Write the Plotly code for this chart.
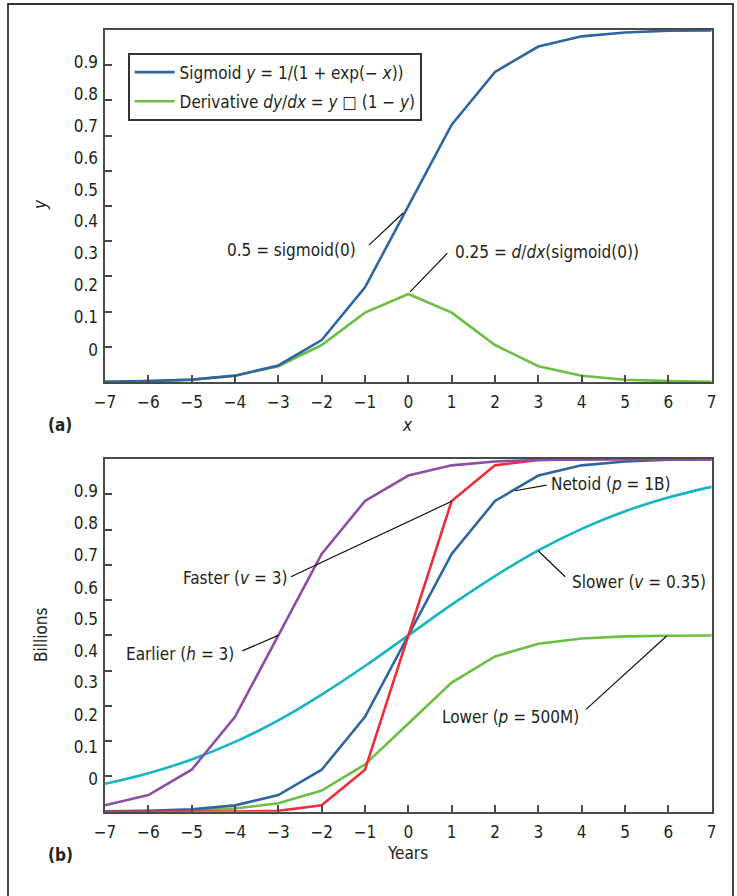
import plotly.graph_objects as go

# ---------------- data ----------------
x_vals = [-7, -6, -5, -4, -3, -2, -1, 0, 1, 2, 3, 4, 5, 6, 7]

# panel (a)
sigmoid = [0.0009, 0.0025, 0.0067, 0.018, 0.047, 0.119, 0.269, 0.5,
           0.731, 0.881, 0.953, 0.982, 0.993, 0.998, 0.999]
derivative = [0.0009, 0.0025, 0.0066, 0.0177, 0.045, 0.105, 0.197, 0.25,
              0.197, 0.105, 0.045, 0.0177, 0.0066, 0.0025, 0.0009]

# panel (b)
netoid = [0.0009, 0.0025, 0.0067, 0.018, 0.047, 0.119, 0.269, 0.5,
          0.731, 0.881, 0.953, 0.982, 0.993, 0.998, 0.999]
faster = [0.0, 0.0, 0.0, 0.0003, 0.0025, 0.018, 0.119, 0.5,
          0.881, 0.982, 0.9975, 0.9997, 1.0, 1.0, 1.0]
earlier = [0.018, 0.047, 0.119, 0.269, 0.5, 0.731, 0.881, 0.953,
           0.982, 0.993, 0.9975, 0.999, 0.9997, 0.9999, 1.0]
slower = [0.079, 0.109, 0.148, 0.198, 0.259, 0.332, 0.413, 0.5,
          0.587, 0.668, 0.741, 0.802, 0.852, 0.891, 0.921]
lower = [0.0005, 0.0012, 0.0033, 0.009, 0.024, 0.060, 0.134, 0.25,
         0.366, 0.440, 0.476, 0.491, 0.497, 0.499, 0.4995]

# axis ticks / labels
x_ticks = [-7, -6, -5, -4, -3, -2, -1, 0, 1, 2, 3, 4, 5, 6, 7]
y_ticks = [0.1, 0.2, 0.3, 0.4, 0.5, 0.6, 0.7, 0.8, 0.9]
y_labels = ["0", "0.1", "0.2", "0.3", "0.4", "0.5", "0.6", "0.7", "0.8", "0.9"]
y_label_pos = [0.092, 0.184, 0.275, 0.367, 0.456, 0.545, 0.635, 0.727, 0.818, 0.908]

# ---------------- style ----------------
FONT = "DejaVu Sans Condensed, Liberation Sans Narrow, Arial Narrow, sans-serif"
FS = 17
TXT = "#231f20"
AX = "#4a4a4a"
BLUE = "#2f65a0"
GREEN = "#6cbf45"
RED = "#ec2f3a"
PURPLE = "#8d4fa6"
CYAN = "#15b5c2"
LW = 2.6

W, H = 737, 896
def px(v):
    return v / W
def py(v):
    return 1 - v / H

xdom = [px(105), px(711.7)]
ydom_a = [py(382), py(30)]
ydom_b = [py(811.7), py(459)]

fig = go.Figure()

# panel (a)
fig.add_trace(go.Scatter(x=x_vals, y=derivative, mode="lines",
                         line=dict(color=GREEN, width=LW),
                         name="Derivative <i>dy</i>/<i>dx</i> = <i>y</i> \u25a1 (1 \u2212 <i>y</i>)",
                         legendrank=2, legendgroup="d", xaxis="x", yaxis="y"))
fig.add_trace(go.Scatter(x=x_vals, y=sigmoid, mode="lines",
                         line=dict(color=BLUE, width=LW),
                         name="Sigmoid <i>y</i> = 1/(1 + exp(\u2212 <i>x</i>))",
                         legendrank=1, legendgroup="s", xaxis="x", yaxis="y"))

# panel (b)
fig.add_trace(go.Scatter(x=x_vals, y=slower, mode="lines", line_shape="spline",
                         line=dict(color=CYAN, width=LW), showlegend=False,
                         xaxis="x2", yaxis="y2"))
fig.add_trace(go.Scatter(x=x_vals, y=lower, mode="lines",
                         line=dict(color=GREEN, width=LW), showlegend=False,
                         xaxis="x2", yaxis="y2"))
fig.add_trace(go.Scatter(x=x_vals, y=netoid, mode="lines",
                         line=dict(color=BLUE, width=LW), showlegend=False,
                         xaxis="x2", yaxis="y2"))
fig.add_trace(go.Scatter(x=x_vals, y=faster, mode="lines",
                         line=dict(color=RED, width=LW), showlegend=False,
                         xaxis="x2", yaxis="y2"))
fig.add_trace(go.Scatter(x=x_vals, y=earlier, mode="lines",
                         line=dict(color=PURPLE, width=LW), showlegend=False,
                         xaxis="x2", yaxis="y2"))

# dummy traces to realise the tick-label overlay axes
fig.add_trace(go.Scatter(x=[], y=[], showlegend=False, xaxis="x", yaxis="y3"))
fig.add_trace(go.Scatter(x=[], y=[], showlegend=False, xaxis="x2", yaxis="y4"))

tickfont = dict(family=FONT, size=FS, color=TXT)
xcommon = dict(range=[-7, 7], tickvals=x_ticks, ticks="inside", ticklen=7,
               tickwidth=1.5, tickcolor=AX, showline=True, linecolor=AX,
               linewidth=1.8, mirror=True, showgrid=False, zeroline=False,
               tickfont=tickfont, automargin=False, domain=xdom,
               ticklabelstandoff=4)
ycommon = dict(range=[0, 1], tickvals=y_ticks, ticks="inside", ticklen=7,
               tickwidth=1.5, tickcolor=AX, showline=True, linecolor=AX,
               linewidth=1.8, mirror=True, showgrid=False, zeroline=False,
               showticklabels=False, automargin=False)
ylab = dict(range=[0, 1], tickvals=y_label_pos, ticktext=y_labels, ticks="",
            showline=False, showgrid=False, zeroline=False, tickfont=tickfont,
            automargin=False, side="left", ticklabelstandoff=6)

fig.update_layout(
    width=W, height=H,
    margin=dict(l=0, r=0, t=0, b=0),
    paper_bgcolor="white", plot_bgcolor="white",
    font=dict(family=FONT, size=FS, color=TXT),
    xaxis=dict(**xcommon, anchor="y"),
    yaxis=dict(**ycommon, domain=ydom_a, anchor="x"),
    xaxis2=dict(**xcommon, anchor="y2"),
    yaxis2=dict(**ycommon, domain=ydom_b, anchor="x2"),
    yaxis3=dict(**ylab, overlaying="y", anchor="x"),
    yaxis4=dict(**ylab, overlaying="y2", anchor="x2"),
    legend=dict(x=px(128), y=py(53), xanchor="left", yanchor="top",
                bordercolor="#333333", borderwidth=1.6, bgcolor="white",
                font=dict(family=FONT, size=FS, color=TXT),
                itemwidth=40, tracegroupgap=4),
    showlegend=True,
)

# outer frame
fig.add_shape(type="rect", xref="paper", yref="paper",
              x0=px(8), x1=px(733), y0=-0.05, y1=py(4),
              line=dict(color="#333333", width=1.8), layer="below")

# axis titles and panel labels
titles = [
    ("<i>y</i>", 40, 205, -90, False),
    ("<i>x</i>", 407, 425, 0, False),
    ("(a)", 60, 425, 0, True),
    ("Billions", 41, 635, -90, False),
    ("Years", 407, 853, 0, False),
    ("(b)", 60, 855, 0, True),
]
for txt, tx, ty, ang, bold in titles:
    fig.add_annotation(text=("<b>%s</b>" % txt) if bold else txt,
                       xref="paper", yref="paper", x=px(tx), y=py(ty),
                       xanchor="center", yanchor="middle", showarrow=False,
                       textangle=ang, font=dict(family=FONT, size=FS, color=TXT))

# callout labels: (text, xaxis, yaxis, x, y, xanchor, line x0, y0, x1, y1)
callouts = [
    ("0.5 = sigmoid(0)", "x", "y", -1.16, 0.375, "right", -0.91, 0.389, -0.12, 0.48),
    ("0.25 = <i>d</i>/<i>dx</i>(sigmoid(0))", "x", "y", 1.02, 0.370, "left", 0.90, 0.366, 0.04, 0.256),
    ("Faster (<i>v</i> = 3)", "x2", "y2", -2.75, 0.662, "right", -2.71, 0.666, 1.0, 0.88),
    ("Earlier (<i>h</i> = 3)", "x2", "y2", -3.98, 0.447, "right", -3.83, 0.456, -3.0, 0.5),
    ("Netoid (<i>p</i> = 1B)", "x2", "y2", 3.25, 0.928, "left", 3.19, 0.926, 2.46, 0.910),
    ("Slower (<i>v</i> = 0.35)", "x2", "y2", 3.73, 0.652, "left", 3.62, 0.666, 3.0, 0.739),
    ("Lower (<i>p</i> = 500M)", "x2", "y2", 3.98, 0.269, "right", 4.10, 0.290, 5.96, 0.498),
]
for txt, xr, yr, tx, ty, xa, x0, y0, x1, y1 in callouts:
    fig.add_annotation(text=txt, xref=xr, yref=yr, x=tx, y=ty, xanchor=xa,
                       yanchor="middle", showarrow=False,
                       font=dict(family=FONT, size=FS, color=TXT))
    fig.add_shape(type="line", xref=xr, yref=yr, x0=x0, y0=y0, x1=x1, y1=y1,
                  line=dict(color="#111111", width=1.2))

fig.write_html("out.html",
               config={"displayModeBar": False},
               post_script="document.body.style.margin='0px';")
